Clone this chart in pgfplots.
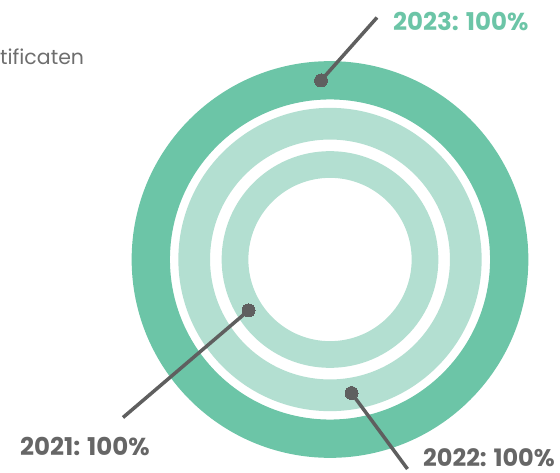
\documentclass[border=0pt]{standalone}
\usepackage{pgfplots}
\pgfplotsset{compat=1.18}
\usepackage{fontspec}
\setmainfont{Poppins}
\definecolor{ringdark}{HTML}{6CC5A7}
\definecolor{ringlight}{HTML}{B3DFD1}
\definecolor{leader}{HTML}{5F5F5F}
\definecolor{labelgray}{HTML}{666666}
\definecolor{legendgray}{HTML}{6E6E6E}

\begin{document}
\begin{tikzpicture}
\clip (0,0) rectangle (560pt,473pt);
\begin{axis}[
  at={(0,0)}, anchor=south west,
  hide axis, scale only axis,
  x=1pt, y=1pt, y dir=reverse,
  xmin=0, xmax=560, ymin=0, ymax=473,
  clip=false, clip marker paths=true,
]
% one full ring per year (100% each), centred on the donut
\addplot[only marks, mark=o, mark size=179.2pt,
  mark options={line width=38.3pt, draw=ringdark}] coordinates {(330,259.5)}; % 2023
\addplot[only marks, mark=o, mark size=135.8pt,
  mark options={line width=31.7pt, draw=ringlight}] coordinates {(330,259.5)}; % 2022
\addplot[only marks, mark=o, mark size=95pt,
  mark options={line width=26.7pt, draw=ringlight}] coordinates {(330,259.5)}; % 2021

% leader lines
\pgfplotsset{leaderline/.style={leader, line width=3.5pt, mark=*, mark indices={1},
  mark size=6.5pt, mark options={fill=leader, draw=leader, line width=0pt}}}
\addplot[leaderline] coordinates {(321,80.5) (377,17.5)};
\addplot[leaderline] coordinates {(248.5,310.5) (123,417.5)};
\addplot[leaderline] coordinates {(351.5,393) (407.5,469)};

\node[anchor=base west, inner sep=0pt, font=\bfseries\fontsize{24.5}{24.5}\selectfont, text=ringdark]
  at (axis cs:393,30.7) {2023: 100\%};
\node[anchor=base west, inner sep=0pt, font=\bfseries\fontsize{24.5}{24.5}\selectfont, text=labelgray]
  at (axis cs:20,455) {2021: 100\%};
\node[anchor=base west, inner sep=0pt, font=\bfseries\fontsize{24}{24}\selectfont, text=labelgray]
  at (axis cs:423,466) {2022: 100\%};
\node[anchor=base west, inner sep=0pt, font=\fontsize{20.5}{20.5}\selectfont, text=legendgray]
  at (axis cs:0,65) {tificaten};
\end{axis}
\end{tikzpicture}
\end{document}
